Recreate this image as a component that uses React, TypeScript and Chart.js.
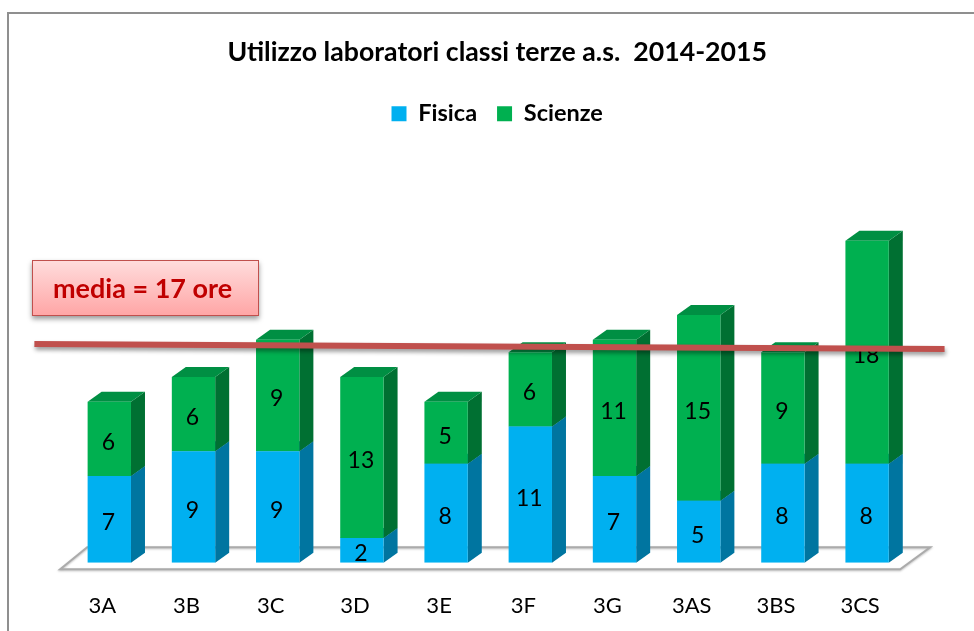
import React, { useEffect, useRef } from "react";
import { Chart, registerables } from "chart.js";

Chart.register(...registerables);

const categories = ["3A", "3B", "3C", "3D", "3E", "3F", "3G", "3AS", "3BS", "3CS"];
const fisica = [7, 9, 9, 2, 8, 11, 7, 5, 8, 8];
const scienze = [6, 6, 9, 13, 5, 6, 11, 15, 9, 18];
const mediaX = [-0.89, 9.92];
const mediaY = [17.66, 17.26];

const FONT = "Lato";
const DX = 14;
const DY = 10;
const sideColors = ["#0075a0", "#007032"];
const topColors = ["#00709a", "#008f43"];

const bar3d = {
  id: "bar3d",
  beforeDatasetsDraw(chart: any) {
    const { ctx, chartArea } = chart;
    const b = chartArea.bottom;
    ctx.save();
    ctx.strokeStyle = "#ababab";
    ctx.lineWidth = 2;
    ctx.shadowColor = "rgba(0,0,0,0.25)";
    ctx.shadowBlur = 2;
    ctx.shadowOffsetY = 1;
    ctx.beginPath();
    ctx.moveTo(chartArea.left - 7, b + 6.5);
    ctx.lineTo(chartArea.right - 9, b + 6.5);
    ctx.lineTo(chartArea.right + 21, b - 15.5);
    ctx.lineTo(chartArea.left + 20, b - 15.5);
    ctx.closePath();
    ctx.stroke();
    ctx.restore();
    [0, 1].forEach((di) => {
      const meta = chart.getDatasetMeta(di);
      meta.data.forEach((el: any) => {
        const right = el.x + el.width / 2;
        const left = el.x - el.width / 2;
        const top = el.y;
        const bottom = el.base;
        ctx.fillStyle = sideColors[di];
        ctx.beginPath();
        ctx.moveTo(right, top);
        ctx.lineTo(right + DX, top - DY);
        ctx.lineTo(right + DX, bottom - DY);
        ctx.lineTo(right, bottom);
        ctx.closePath();
        ctx.fill();
        ctx.fillStyle = topColors[di];
        ctx.beginPath();
        ctx.moveTo(left, top);
        ctx.lineTo(left + DX, top - DY);
        ctx.lineTo(right + DX, top - DY);
        ctx.lineTo(right, top);
        ctx.closePath();
        ctx.fill();
      });
    });
  },
  beforeDatasetDraw(chart: any, args: any) {
    if (args.index === 2) {
      const { ctx } = chart;
      ctx.save();
      ctx.shadowColor = "rgba(0,0,0,0.4)";
      ctx.shadowBlur = 4;
      ctx.shadowOffsetY = 3;
      ctx.shadowOffsetX = 1;
    }
  },
  afterDatasetDraw(chart: any, args: any) {
    const { ctx } = chart;
    if (args.index === 2) {
      ctx.restore();
      return;
    }
    const ds = chart.data.datasets[args.index];
    ctx.save();
    ctx.fillStyle = "#000000";
    ctx.font = `23px ${FONT}`;
    ctx.textAlign = "center";
    ctx.textBaseline = "middle";
    chart.getDatasetMeta(args.index).data.forEach((el: any, i: number) => {
      ctx.fillText(String(ds.data[i]), el.x - 1, (el.y + el.base) / 2 + 3.5);
    });
    ctx.restore();
  },
};

export default function App() {
  const ref = useRef<HTMLCanvasElement>(null);
  useEffect(() => {
    const chart = new Chart(ref.current as HTMLCanvasElement, {
      data: {
        labels: categories,
        datasets: [
          { type: "bar", label: "Fisica", data: fisica, backgroundColor: "#00b0f0", grouped: false, order: 2 },
          { type: "bar", label: "Scienze", data: scienze, backgroundColor: "#00b050", grouped: false, order: 3 },
          {
            type: "line",
            label: "media",
            data: mediaX.map((x, i) => ({ x, y: mediaY[i] })),
            xAxisID: "x2",
            borderColor: "#c0504d",
            borderWidth: 6,
            pointRadius: 0,
            clip: false,
            order: 1,
          },
        ],
      } as any,
      options: {
        animation: false,
        responsive: false,
        datasets: { bar: { barPercentage: 1, categoryPercentage: 0.515 } },
        layout: { padding: { left: 47.2, right: 46.8, top: 0, bottom: 0 } },
        scales: {
          x: {
            stacked: true,
            grid: { display: false },
            border: { display: false },
            ticks: { color: "#000000", font: { family: FONT, size: 22 }, padding: 22, labelOffset: -7, maxRotation: 0, autoSkip: false },
            afterFit: (s: any) => { s.height = 68.3; },
          },
          x2: { type: "linear", display: false, min: -0.5, max: 9.5 },
          y: {
            stacked: true,
            position: "right",
            min: 0,
            max: 34.5,
            grid: { display: false },
            border: { display: false },
            ticks: { display: false },
            afterFit: (s: any) => { s.width = 18; },
          },
        },
        plugins: {
          tooltip: { enabled: false },
          title: {
            display: true,
            text: "Utilizzo laboratori classi terze a.s.  2014-2015",
            color: "#000000",
            font: { family: FONT, size: 26.7, weight: "bold" },
            padding: { top: 36, bottom: 14 },
          },
          legend: {
            display: true,
            position: "top",
            labels: {
              filter: (item: any) => item.text !== "media",
              color: "#000000",
              font: { family: FONT, size: 23.5, weight: "bold" },
              boxWidth: 15,
              boxHeight: 15,
              padding: 20,
            },
          },
        },
      },
      plugins: [bar3d],
    } as any);
    return () => chart.destroy();
  }, []);

  return (
    <div style={{ position: "absolute", left: 0, top: 0, width: 974, height: 631, overflow: "hidden", background: "#fff" }}>
      <div style={{ position: "absolute", left: 7, top: 12, width: 1000, height: 640, borderLeft: "2px solid #8f8f8f", borderTop: "2px solid #8f8f8f", boxSizing: "border-box" }} />
      <canvas ref={ref} width={954} height={631} style={{ position: "absolute", left: 20, top: 0, display: "block" }} />
      <div
        style={{
          position: "absolute",
          left: 32,
          top: 260,
          width: 227,
          height: 56,
          boxSizing: "border-box",
          border: "1.5px solid #c0504d",
          background: "linear-gradient(#ffdcdc, #ffa6a6)",
          boxShadow: "0 3px 5px rgba(0,0,0,0.4)",
          color: "#c00000",
          font: `bold 27px ${FONT}`,
          lineHeight: "53px",
          paddingLeft: 20,
          whiteSpace: "nowrap",
        }}
      >
        media = 17 ore
      </div>
    </div>
  );
}
